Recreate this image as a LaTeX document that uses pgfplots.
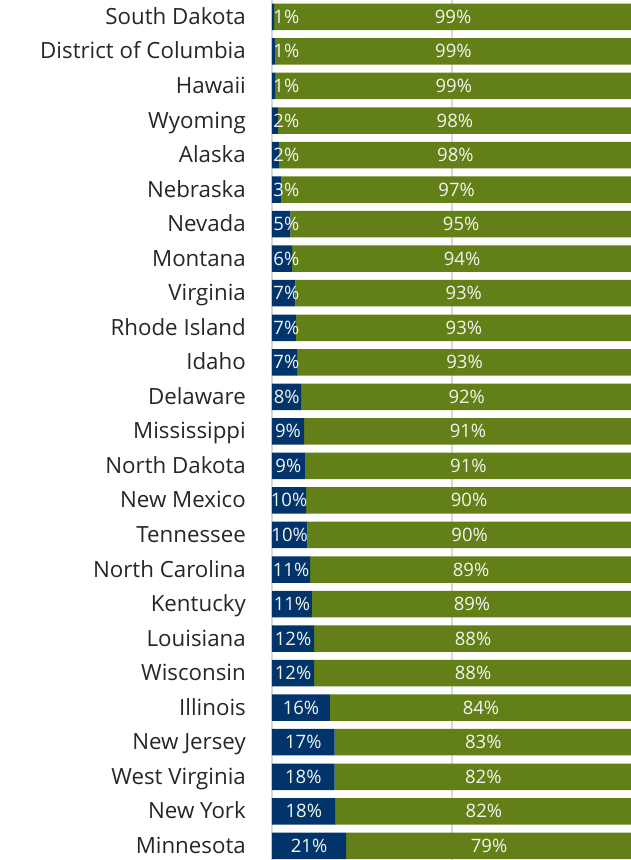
\documentclass[border=0pt]{standalone}
\usepackage{pgfplots}
\pgfplotsset{compat=1.18}
\usepackage{pgfplotstable}
\usepackage{fontspec}
\setmainfont{Open Sans}
\definecolor{navy}{RGB}{0,52,106}
\definecolor{olivebar}{RGB}{99,127,23}
\definecolor{lbl}{RGB}{38,38,38}
\definecolor{grd}{RGB}{217,217,217}
\definecolor{dlbl}{RGB}{245,245,240}

\pgfplotstableread[col sep=comma]{
name,b,bl,gl
Minnesota,20.6,21,79
New York,17.7,18,82
West Virginia,17.4,18,82
New Jersey,17.4,17,83
Illinois,16.1,16,84
Wisconsin,11.7,12,88
Louisiana,11.7,12,88
Kentucky,11.1,11,89
North Carolina,10.6,11,89
Tennessee,9.8,10,90
New Mexico,9.5,10,90
North Dakota,9.1,9,91
Mississippi,8.9,9,91
Delaware,8.2,8,92
Idaho,7.0,7,93
Rhode Island,6.6,7,93
Virginia,6.5,7,93
Montana,5.6,6,94
Nevada,5.1,5,95
Nebraska,2.6,3,97
Alaska,1.9,2,98
Wyoming,1.6,2,98
Hawaii,1.0,1,99
District of Columbia,0.8,1,99
South Dakota,0.6,1,99
}\data

\begin{document}
\begin{tikzpicture}
\begin{axis}[
  scale only axis, width=360pt, height=860pt,
  xbar stacked, bar width=26.5pt,
  xmin=0, xmax=100, ymin=-0.41, ymax=24.49,
  ytick={0,...,24}, yticklabels from table={\data}{name},
  xtick={0,50,100}, xticklabels={},
  xmajorgrids, grid style={grd, line width=1.5pt},
  axis line style={draw=none}, major tick length=0pt,
  yticklabel style={font=\fontsize{22.3}{24}\selectfont, text=lbl, inner sep=0pt, anchor=base east, xshift=-26pt, yshift=-7.5pt},
]
\addplot[fill=navy, draw=none] table[x=b, y expr=\coordindex] {\data};
\addplot[fill=olivebar, draw=none] table[x expr=100-\thisrow{b}, y expr=\coordindex] {\data};
\end{axis}
\begin{axis}[
  scale only axis, width=360pt, height=860pt,
  xmin=0, xmax=100, ymin=-0.41, ymax=24.49,
  hide axis, clip=false,
]
\addplot[only marks, mark=none, point meta=explicit symbolic,
  nodes near coords={\pgfplotspointmeta\%},
  every node near coord/.append style={anchor=base, yshift=-6.5pt, text=dlbl, inner sep=0pt, font=\fontsize{18.5}{20}\selectfont}]
  table[x expr={max(\thisrow{b}/2,4.0)}, y expr=\coordindex, meta=bl] {\data};
\addplot[only marks, mark=none, point meta=explicit symbolic,
  nodes near coords={\pgfplotspointmeta\%},
  every node near coord/.append style={anchor=base, yshift=-6.5pt, text=dlbl, inner sep=0pt, font=\fontsize{18.5}{20}\selectfont}]
  table[x expr={50+\thisrow{b}/2}, y expr=\coordindex, meta=gl] {\data};
\end{axis}
\pgfresetboundingbox
\path[use as bounding box] ([xshift=-272pt]current axis.south west) rectangle ([xshift=-1pt]current axis.north east);
\end{tikzpicture}
\end{document}
